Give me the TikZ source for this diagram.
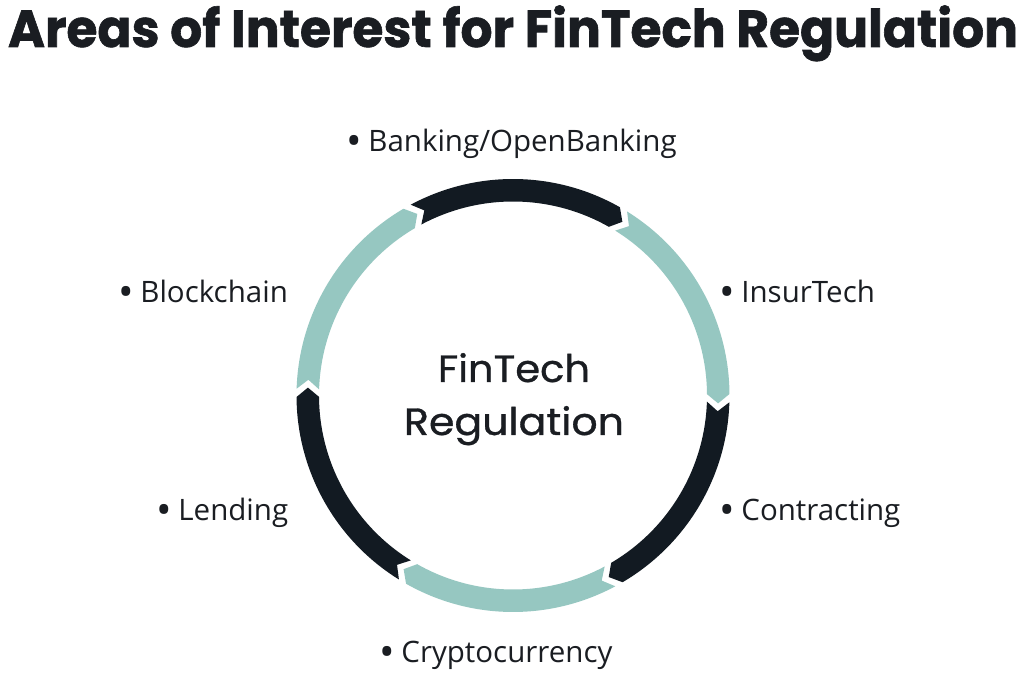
\documentclass[tikz,border=0pt]{standalone}
\usepackage{fontspec}
\usetikzlibrary{calc}
\newfontfamily\titlefont{Poppins}[BoldFeatures={FakeBold=1.2}]
\newfontfamily\ctrfont{Poppins}[FakeBold=0.8]
\newfontfamily\labfont{Open Sans}
\definecolor{ringdark}{HTML}{121A22}
\definecolor{ringteal}{HTML}{96C7C1}
\definecolor{txt}{HTML}{1A1D22}
\newcommand\RingOut{216.5}
\newcommand\RingIn{194}
\newcommand\RingMid{205.25}
\newcommand\RingGap{1.1}
\newcommand\RingDep{2.6}
\newcommand\bul{\raisebox{-4pt}{\scalebox{1.4}{•}}\hspace{-1pt}}
\newcommand\ringseg[3]{%
  \fill[#3] (#1-\RingGap+\RingDep/2:\RingOut) arc[start angle=#1-\RingGap+\RingDep/2, end angle=#2+\RingGap+\RingDep/2, radius=\RingOut]
    -- (#2+\RingGap-\RingDep/2:\RingMid) -- (#2+\RingGap+\RingDep/2:\RingIn)
    arc[start angle=#2+\RingGap+\RingDep/2, end angle=#1-\RingGap+\RingDep/2, radius=\RingIn]
    -- (#1-\RingGap-\RingDep/2:\RingMid) -- cycle;}
\tikzset{
  lab/.style={anchor=base west, inner sep=0pt, font=\labfont\fontsize{29.5}{34}\selectfont, text=txt},
  ctr/.style={anchor=base, inner sep=0pt, font=\ctrfont\fontsize{38}{44}\selectfont, text=txt},
}
\begin{document}
\begin{tikzpicture}[x=1pt,y=1pt]
\useasboundingbox (0,0) rectangle (1024,679);
\fill[white] (0,0) rectangle (1024,679);
\node[anchor=base, inner sep=0pt, text=txt, font=\titlefont\bfseries\fontsize{52}{60}\selectfont] (title) at (513,679-47) {\resizebox{1010pt}{\height}{Areas of Interest for FinTech Regulation}};
\begin{scope}[shift={(513,679-395.5)}]
  \ringseg{118}{58}{ringdark}
  \ringseg{58}{-2}{ringteal}
  \ringseg{-2}{-62}{ringdark}
  \ringseg{-62}{-122}{ringteal}
  \ringseg{-122}{-182}{ringdark}
  \ringseg{178}{118}{ringteal}
\end{scope}
\node[ctr] (c1) at (514,679-382) {\resizebox{152pt}{\height}{FinTech}};
\node[ctr] (c2) at (514,679-435) {\resizebox{220pt}{\height}{Regulation}};
\node[lab] (bank) at (346,679-152) {\bul\ Banking/OpenBanking};
\node[lab] (block) at (118,679-303) {\bul\ Blockchain};
\node[lab] (insur) at (719,679-303) {\bul\ InsurTech};
\node[lab] (lend) at (156,679-521) {\bul\ Lending};
\node[lab] (contr) at (719,679-521) {\bul\ Contracting};
\node[lab] (crypto) at (379,679-663) {\bul\ Cryptocurrency};
\end{tikzpicture}
\end{document}
